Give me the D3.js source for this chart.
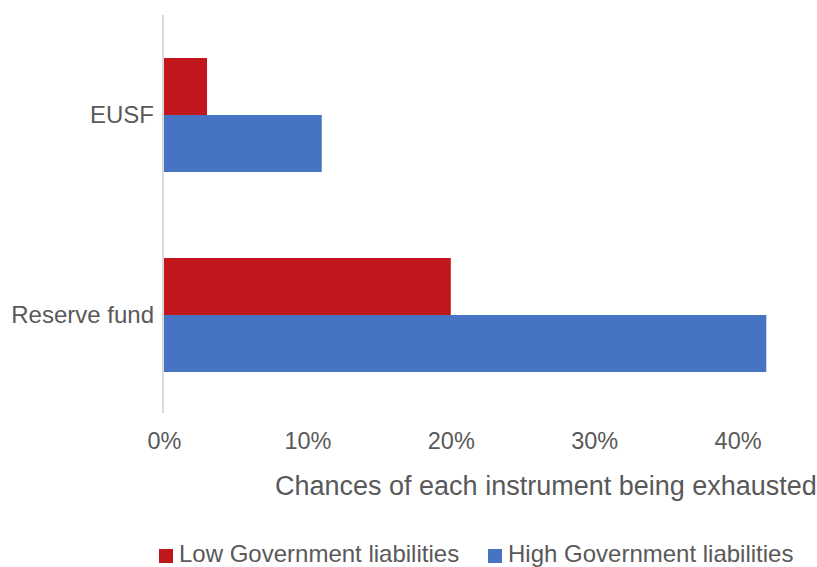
<!DOCTYPE html>
<html>
<head>
<meta charset="utf-8">
<script src="https://cdn.jsdelivr.net/npm/d3@7"></script>
<style>
  html, body { margin: 0; padding: 0; background: #fff; }
  svg { display: block; font-family: "Liberation Sans", Arial, sans-serif; }
</style>
</head>
<body>
<svg id="chart" width="817" height="567"></svg>
<script>
const categories = ["EUSF", "Reserve fund"];
const seriesNames = ["Low Government liabilities", "High Government liabilities"];
const lowValues = [0.03, 0.20];
const highValues = [0.11, 0.42];
const tickValues = [0, 0.1, 0.2, 0.3, 0.4];
const axisTitle = "Chances of each instrument being exhausted";
const colors = ["#c1161b", "#4673c2"];

const svg = d3.select("#chart");
const textColor = "#595959";

const x = d3.scaleLinear().domain([0, 0.45]).range([164, 809.3]);
const y = d3.scaleBand().domain(categories).range([15, 415])
  .paddingInner(0.43).paddingOuter(0.215);
const ySub = d3.scaleBand().domain(seriesNames).range([0, y.bandwidth()]);

const data = categories.map((c, i) => ({
  cat: c,
  vals: [{ s: seriesNames[0], v: lowValues[i] }, { s: seriesNames[1], v: highValues[i] }]
}));

// bars
const groups = svg.append("g").selectAll("g").data(data).join("g")
  .attr("transform", d => `translate(0,${y(d.cat)})`);
groups.selectAll("rect").data(d => d.vals).join("rect")
  .attr("x", x(0))
  .attr("y", d => ySub(d.s))
  .attr("height", ySub.bandwidth())
  .attr("width", d => x(d.v) - x(0))
  .attr("fill", (d, i) => colors[i]);

// vertical axis line
svg.append("line")
  .attr("x1", 163).attr("x2", 163)
  .attr("y1", 15).attr("y2", 413)
  .attr("stroke", "#d9d9d9").attr("stroke-width", 2);

// category labels
svg.append("g").selectAll("text").data(categories).join("text")
  .attr("x", 154)
  .attr("y", d => y(d) + y.bandwidth() / 2 + 8)
  .attr("text-anchor", "end")
  .attr("font-size", 24)
  .attr("fill", textColor)
  .text(d => d);

// x axis tick labels
const xAxis = d3.axisBottom(x).tickValues(tickValues).tickFormat(d3.format(".0%")).tickSize(0).tickPadding(0);
const gx = svg.append("g").attr("transform", "translate(0,431)").call(xAxis);
gx.select(".domain").remove();
gx.selectAll("text")
  .attr("font-size", 23.5)
  .attr("font-family", "Liberation Sans, Arial, sans-serif")
  .attr("fill", textColor)
  .attr("dy", "0.78em");

// axis title
svg.append("text")
  .attr("x", 275).attr("y", 495)
  .attr("font-size", 27)
  .attr("fill", textColor)
  .text(axisTitle);

// legend
const legendX = [159, 488];
const lg = svg.append("g").selectAll("g").data(seriesNames).join("g")
  .attr("transform", (d, i) => `translate(${legendX[i]},0)`);
lg.append("rect").attr("x", 0).attr("y", 549).attr("width", 14).attr("height", 14)
  .attr("fill", (d, i) => colors[i]);
lg.append("text").attr("x", 20).attr("y", 562)
  .attr("font-size", 24).attr("fill", textColor)
  .text(d => d);
</script>
</body>
</html>
